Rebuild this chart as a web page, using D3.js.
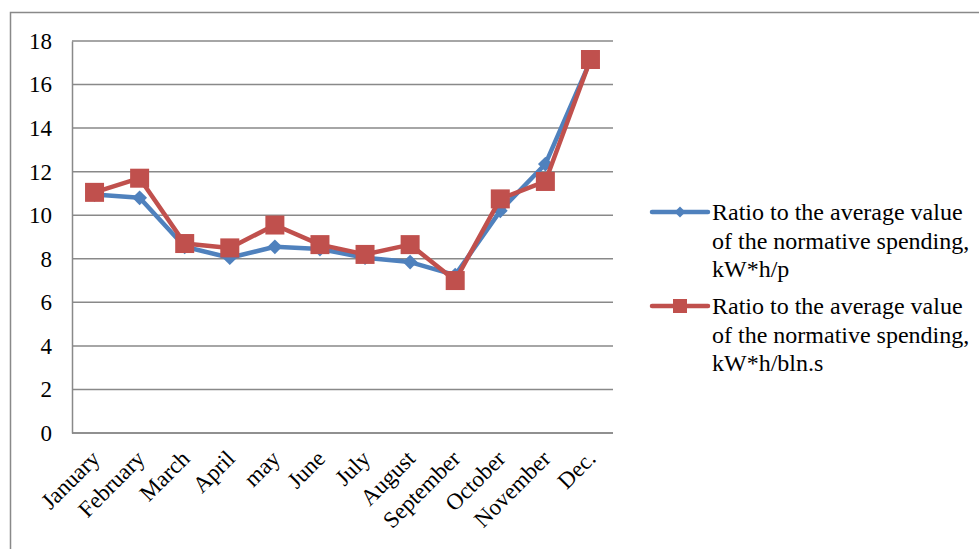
<!doctype html>
<html lang="en">
<head>
<meta charset="utf-8">
<script src="https://d3js.org/d3.v7.min.js"></script>
<style>
  body { margin: 0; background: #fff; }
  svg text { font-family: "Liberation Serif", "Times New Roman", serif; fill: #000; }
</style>
</head>
<body>
<svg id="svg" width="979" height="549"></svg>
<script>
// chart data
const months = ["January", "February", "March", "April", "may", "June", "July",
  "August", "September", "October", "November", "Dec."];
const perPerson = [10.95, 10.8, 8.55, 8.05, 8.55, 8.45, 8.05, 7.85, 7.25, 10.2, 12.35, 17.1];
const perBln = [11.05, 11.7, 8.7, 8.5, 9.55, 8.65, 8.2, 8.65, 7.0, 10.75, 11.55, 17.15];
const yTicks = [0, 2, 4, 6, 8, 10, 12, 14, 16, 18];
const seriesNames = [
  ["Ratio to the average value", "of the normative spending,", "kW*h/p"],
  ["Ratio to the average value", "of the normative spending,", "kW*h/bln.s"]
];

const blue = "#4f81bd", red = "#c0504d", grid = "#898989";
let margin = { top: 41, left: 72, right: 613, bottom: 433 };

let svg = d3.select("#svg");

// outer chart frame
svg.append("rect")
  .attr("x", 10.5).attr("y", 12.5)
  .attr("width", 1000).attr("height", 600)
  .attr("fill", "none").attr("stroke", grid).attr("stroke-width", 1.5);

let xScale = d3.scalePoint().domain(months).range([margin.left, margin.right]).padding(0.5);
let yScale = d3.scaleLinear().domain([0, 18]).range([margin.bottom, margin.top]);

// gridlines
svg.append("g").selectAll("line")
  .data(yTicks)
  .join("line")
  .attr("x1", margin.left).attr("x2", margin.right)
  .attr("y1", d => yScale(d)).attr("y2", d => yScale(d))
  .attr("stroke", grid).attr("stroke-width", 1.5);

// y axis
let yAxis = svg.append("g")
  .attr("transform", `translate(${margin.left}, 0)`)
  .call(d3.axisLeft(yScale).tickValues(yTicks).tickSize(0).tickPadding(20));
yAxis.select(".domain").attr("stroke", grid).attr("stroke-width", 1.5);
yAxis.selectAll(".tick text").attr("font-size", 23).attr("font-family", "Liberation Serif");

// x axis
let xAxis = svg.append("g")
  .attr("transform", `translate(0, ${margin.bottom})`)
  .call(d3.axisBottom(xScale).tickSize(0).tickPadding(0));
xAxis.select(".domain").attr("stroke", grid).attr("stroke-width", 1.5)
  .attr("d", `M${margin.left},0H${margin.right}`);
xAxis.selectAll(".tick text")
  .attr("font-size", 23).attr("font-family", "Liberation Serif")
  .attr("text-anchor", "end")
  .attr("dy", 0)
  .attr("transform", "translate(6, 27) rotate(-45)");

// lines
let line = d3.line().x((d, i) => xScale(months[i])).y(d => yScale(d));

svg.append("path").datum(perPerson)
  .attr("d", line).attr("fill", "none")
  .attr("stroke", blue).attr("stroke-width", 4.5).attr("stroke-linejoin", "round");

svg.append("g").selectAll("path")
  .data(perPerson)
  .join("path")
  .attr("d", d3.symbol(d3.symbolSquare, 110)())
  .attr("transform", (d, i) => `translate(${xScale(months[i])}, ${yScale(d)}) rotate(45)`)
  .attr("fill", blue);

svg.append("path").datum(perBln)
  .attr("d", line).attr("fill", "none")
  .attr("stroke", red).attr("stroke-width", 4.5).attr("stroke-linejoin", "round");

svg.append("g").selectAll("rect")
  .data(perBln)
  .join("rect")
  .attr("x", (d, i) => xScale(months[i]) - 9.5)
  .attr("y", d => yScale(d) - 9.5)
  .attr("width", 19).attr("height", 19)
  .attr("fill", red);

// legend
let legend = svg.append("g").attr("transform", "translate(652, 212)");
let items = legend.selectAll("g")
  .data(seriesNames)
  .join("g")
  .attr("transform", (d, i) => `translate(0, ${i * 94})`);

items.append("line")
  .attr("x1", 0).attr("x2", 56)
  .attr("stroke", (d, i) => i === 0 ? blue : red)
  .attr("stroke-width", 4.5).attr("stroke-linecap", "round");

items.each(function(d, i) {
  let g = d3.select(this);
  if (i === 0) {
    g.append("path").attr("d", d3.symbol(d3.symbolSquare, 60)())
      .attr("transform", "translate(28, 0) rotate(45)").attr("fill", blue);
  } else {
    g.append("rect").attr("x", 21).attr("y", -7).attr("width", 14).attr("height", 14).attr("fill", red);
  }
});

items.append("text")
  .attr("x", 60).attr("font-size", 24)
  .selectAll("tspan")
  .data(d => d)
  .join("tspan")
  .attr("x", 60)
  .attr("y", (d, i) => 8 + i * 28.5)
  .text(d => d);
</script>
</body>
</html>
